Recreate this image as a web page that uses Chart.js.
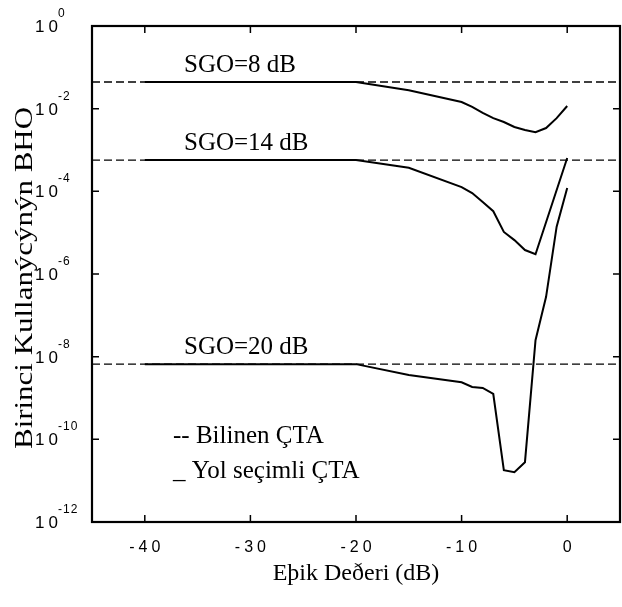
<!DOCTYPE html>
<html>
<head>
<meta charset="utf-8">
<script src="https://cdn.jsdelivr.net/npm/chart.js@4/dist/chart.umd.min.js"></script>
<style>
  body { margin: 0; background: #fff; }
  canvas { display: block; }
</style>
</head>
<body>
<canvas id="bhoChart" width="622" height="607"></canvas>
<script>
// esik degeri (dB)
const thresholds = [-40, -30, -20, -15, -10, -9, -8, -7, -6, -5, -4, -3, -2, -1, 0];

// yol secimli CTA, one curve per SGO
const sgo8  = [4.4e-2, 4.4e-2, 4.4e-2, 2.8e-2, 1.45e-2, 1.1e-2, 7.9e-3, 5.9e-3, 4.75e-3, 3.6e-3, 3.05e-3, 2.7e-3, 3.4e-3, 5.9e-3, 1.16e-2];
const sgo14 = [5.7e-4, 5.7e-4, 5.7e-4, 3.7e-4, 1.27e-4, 9.1e-5, 5.5e-5, 3.3e-5, 1.04e-5, 6.6e-6, 3.8e-6, 3.0e-6, null, null, 6.4e-4];
const sgo20 = [6.6e-9, 6.6e-9, 6.6e-9, 3.6e-9, 2.4e-9, 1.85e-9, 1.75e-9, 1.25e-9, 1.8e-11, 1.6e-11, 2.8e-11, 2.5e-8, 2.8e-7, 1.4e-5, 1.2e-4];

// bilinen CTA (flat, dashed)
const knownLevels = [4.4e-2, 5.7e-4, 6.6e-9];
const sgoLabels   = ['SGO=8 dB', 'SGO=14 dB', 'SGO=20 dB'];

const xTicks = [-40, -30, -20, -10, 0];
const yExps  = [0, -2, -4, -6, -8, -10, -12];

const SERIF = '"Liberation Serif", "Times New Roman", serif';
const SANS  = '"Liberation Sans", Arial, sans-serif';

const toPts = vals => thresholds.map((x, i) => ({ x, y: vals[i] }));

const solid  = vals => ({ data: toPts(vals), borderColor: '#000', borderWidth: 2, pointRadius: 0, tension: 0, spanGaps: true });
const dashed = lvl  => ({ data: [{ x: -45, y: lvl }, { x: 5, y: lvl }], borderColor: '#000', borderWidth: 1.4, borderDash: [8, 4], pointRadius: 0 });

const framePlugin = {
  id: 'frame',
  afterDraw(chart) {
    const { ctx, chartArea: a, scales: { x, y } } = chart;
    ctx.save();
    ctx.strokeStyle = '#000';
    ctx.fillStyle = '#000';

    // ticks, inward on all four sides
    ctx.lineWidth = 1.5;
    ctx.beginPath();
    xTicks.forEach(v => {
      const px = x.getPixelForValue(v);
      ctx.moveTo(px, a.bottom); ctx.lineTo(px, a.bottom - 7);
      ctx.moveTo(px, a.top);    ctx.lineTo(px, a.top + 7);
    });
    yExps.forEach(e => {
      const py = y.getPixelForValue(Math.pow(10, e));
      ctx.moveTo(a.left, py);  ctx.lineTo(a.left + 7, py);
      ctx.moveTo(a.right, py); ctx.lineTo(a.right - 7, py);
    });
    ctx.stroke();

    ctx.lineWidth = 2.2;
    ctx.strokeRect(a.left, a.top, a.right - a.left, a.bottom - a.top);

    // x tick labels
    ctx.font = '16px ' + SANS;
    ctx.letterSpacing = '4px';
    ctx.textAlign = 'center';
    ctx.textBaseline = 'alphabetic';
    xTicks.forEach(v => ctx.fillText(String(v), x.getPixelForValue(v) + 2, 552));

    // y tick labels: 10 with superscript exponent
    ctx.textAlign = 'left';
    yExps.forEach(e => {
      const py = y.getPixelForValue(Math.pow(10, e));
      ctx.font = '17px ' + SANS;
      ctx.letterSpacing = '4px';
      ctx.fillText('10', 35, py + 6);
      ctx.font = '12px ' + SANS;
      ctx.letterSpacing = '1px';
      ctx.fillText(String(e), 58, py - 9);
    });
    ctx.letterSpacing = '0px';

    // SGO annotations over the dashed lines
    ctx.font = '25px ' + SERIF;
    knownLevels.forEach((lvl, i) => {
      ctx.fillText(sgoLabels[i], 184, y.getPixelForValue(lvl) - 10);
    });

    // legend text
    ctx.fillText('-- Bilinen ÇTA', 173, 443);
    ctx.fillText('_ Yol seçimli ÇTA', 173, 478);

    // axis titles
    ctx.textAlign = 'center';
    ctx.font = '24px ' + SERIF;
    ctx.fillText('Eþik Deðeri (dB)', (a.left + a.right) / 2, 580);

    ctx.translate(32, 278);
    ctx.rotate(-Math.PI / 2);
    ctx.scale(1.19, 1);
    ctx.font = '26px ' + SERIF;
    ctx.fillText('Birinci Kullanýcýnýn BHO', 0, 0);
    ctx.restore();
  }
};

new Chart(document.getElementById('bhoChart'), {
  type: 'line',
  data: {
    datasets: [
      ...knownLevels.map(dashed),
      solid(sgo8), solid(sgo14), solid(sgo20),
    ],
  },
  options: {
    responsive: false,
    animation: false,
    layout: { padding: { left: 92, right: 2, top: 26, bottom: 85 } },
    plugins: { legend: { display: false }, tooltip: { enabled: false } },
    scales: {
      x: { type: 'linear', min: -45, max: 5, display: false },
      y: { type: 'logarithmic', min: 1e-12, max: 1, display: false },
    },
  },
  plugins: [framePlugin],
});
</script>
</body>
</html>
